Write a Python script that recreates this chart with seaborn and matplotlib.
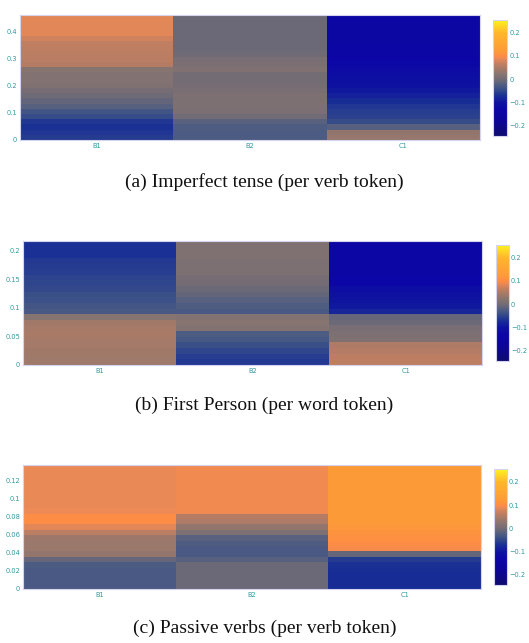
import numpy as np
import pandas as pd
import matplotlib
matplotlib.use("Agg")
import matplotlib.pyplot as plt
from matplotlib.colors import LinearSegmentedColormap
import seaborn as sns

# levels (columns)
levels = ["B1", "B2", "C1"]

# each list is read bottom -> top, one value per row bin
# (a) Imperfect tense, 24 bins up to 0.463
imp_step = 0.463 / 24
imp_b1 = [-0.06, -0.065, -0.07, -0.065, -0.045, -0.035, -0.02, -0.012, -0.003, 0.003,
          0.012, 0.015, 0.016, 0.02, 0.055, 0.058, 0.06, 0.062, 0.065, 0.075,
          0.085, 0.085, 0.085, 0.085]
imp_b2 = [-0.028, -0.027, -0.025, -0.018, -0.002, 0.008, 0.01, 0.01, 0.01, 0.005,
          0.003, 0.0, 0.0, 0.012, 0.008, 0.006, -0.004, -0.005, -0.006, -0.006,
          -0.006, -0.006, -0.006, -0.006]
imp_c1 = [0.032, 0.03, -0.02, -0.045, -0.055, -0.058, -0.065, -0.075, -0.085, -0.095,
          -0.105, -0.11, -0.115, -0.12, -0.125, -0.13, -0.132, -0.135, -0.14, -0.14,
          -0.14, -0.14, -0.14, -0.14]
imp_ticks = [0, 0.1, 0.2, 0.3, 0.4]

# (b) First person, 22 bins up to 0.218
fp_step = 0.218 / 22
fp_b1 = [0.04, 0.04, 0.042, 0.045, 0.046, 0.047, 0.045, 0.042, 0.02, -0.03,
         -0.035, -0.04, -0.042, -0.048, -0.05, -0.052, -0.058, -0.06, -0.062, -0.07,
         -0.07, -0.07]
fp_b2 = [-0.062, -0.058, -0.05, -0.042, -0.032, -0.028, 0.015, 0.02, 0.015, -0.03,
         -0.025, -0.02, -0.012, -0.005, 0.0, 0.002, 0.01, 0.01, 0.01, 0.012,
         0.012, 0.012]
fp_c1 = [0.062, 0.06, 0.055, 0.05, 0.012, 0.01, 0.005, -0.005, -0.01, -0.08,
         -0.095, -0.1, -0.105, -0.115, -0.13, -0.13, -0.132, -0.135, -0.135, -0.135,
         -0.135, -0.135]
fp_ticks = [0, 0.05, 0.1, 0.15, 0.2]

# (c) Passive verbs, 23 bins up to 0.138
pas_step = 0.138 / 23
pas_b1 = [-0.03, -0.03, -0.03, -0.03, -0.028, -0.01, 0.03, 0.035, 0.036, 0.038,
          0.06, 0.085, 0.1, 0.1, 0.09, 0.088, 0.088, 0.088, 0.088, 0.088,
          0.088, 0.088, 0.088]
pas_b2 = [-0.005, -0.005, -0.005, -0.005, -0.006, -0.02, -0.03, -0.03, -0.025, -0.018,
          0.01, 0.03, 0.05, 0.055, 0.092, 0.092, 0.092, 0.092, 0.092, 0.092,
          0.092, 0.092, 0.092]
pas_c1 = [-0.075, -0.075, -0.075, -0.073, -0.07, -0.06, -0.01, 0.095, 0.1, 0.105,
          0.11, 0.115, 0.12, 0.12, 0.12, 0.12, 0.12, 0.12, 0.12, 0.12,
          0.12, 0.12, 0.12]
pas_ticks = [0, 0.02, 0.04, 0.06, 0.08, 0.1, 0.12]

captions = ["(a) Imperfect tense (per verb token)",
            "(b) First Person (per word token)",
            "(c) Passive verbs (per verb token)"]

vmin, vmax = -0.245, 0.255
nodes = [(-0.245, "#100c6e"), (-0.18, "#0c0598"), (-0.13, "#0c06a6"), (-0.1, "#0e149f"),
         (-0.07, "#1a3094"), (-0.04, "#3c5287"), (-0.02, "#56607f"), (0.0, "#746c74"),
         (0.02, "#867471"), (0.045, "#a67a68"), (0.07, "#c88060"), (0.09, "#ec8a55"),
         (0.1, "#fd8c45"), (0.12, "#fd9a38"), (0.2, "#ffb62a"), (0.255, "#fff21e")]
cmap = LinearSegmentedColormap.from_list(
    "feat", [((v - vmin) / (vmax - vmin), c) for v, c in nodes])

tick_col = "#2b9aa0"
edge_col = "#d4d4ee"

sns.set_style("white")
fig = plt.figure(figsize=(5.29, 6.43), dpi=100)

panels = [
    (imp_b1, imp_b2, imp_c1, imp_step, imp_ticks,
     [0.0378, 0.7823, 0.8696, 0.1944], [0.932, 0.7885, 0.0265, 0.1804], 0.717),
    (fp_b1, fp_b2, fp_c1, fp_step, fp_ticks,
     [0.0435, 0.4323, 0.8677, 0.1933], [0.9376, 0.4386, 0.0246, 0.1804], 0.369),
    (pas_b1, pas_b2, pas_c1, pas_step, pas_ticks,
     [0.0435, 0.0835, 0.8658, 0.1933], [0.9338, 0.0902, 0.0246, 0.18], 0.023),
]

for i, (b1, b2, c1, step, ticks, pos, cpos, cap_y) in enumerate(panels):
    df = pd.DataFrame({"B1": b1, "B2": b2, "C1": c1})
    ax = fig.add_axes(pos)
    cax = fig.add_axes(cpos)
    sns.heatmap(df, ax=ax, cbar_ax=cax, cmap=cmap, vmin=vmin, vmax=vmax,
                xticklabels=levels, linewidths=0)
    ax.invert_yaxis()
    ax.set_yticks([t / step for t in ticks])
    ax.set_yticklabels([f"{t:g}" for t in ticks], rotation=0)
    ax.tick_params(axis="both", length=0, labelsize=4.8, colors=tick_col, pad=2)
    for s in ax.spines.values():
        s.set_visible(True)
        s.set_color(edge_col)
        s.set_linewidth(0.8)

    cbar = ax.collections[0].colorbar
    cticks = [-0.2, -0.1, 0, 0.1, 0.2]
    cbar.set_ticks(cticks)
    cbar.set_ticklabels([f"{t:g}".replace("-", "\u2212") for t in cticks])
    cax.tick_params(length=0, labelsize=4.8, colors=tick_col, pad=1.5)
    cbar.outline.set_edgecolor(edge_col)
    cbar.outline.set_linewidth(0.8)

    fig.text(0.5, cap_y, captions[i], ha="center", va="center",
             fontsize=14, family="Liberation Serif", color="#111111")

fig.savefig("out.png", dpi=100, facecolor="white")
